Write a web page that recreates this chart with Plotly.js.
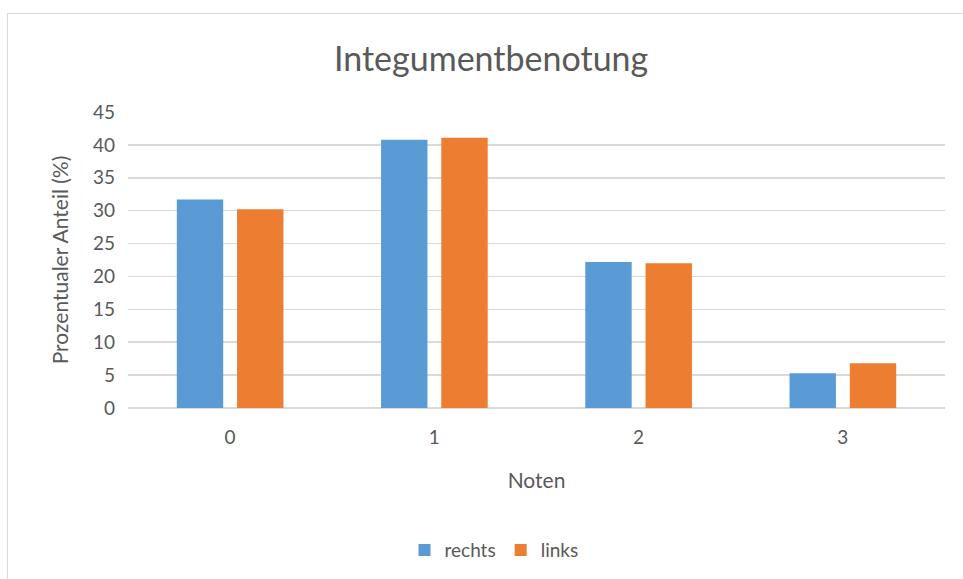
<!DOCTYPE html>
<html><head><meta charset="utf-8">
<script src="https://cdn.plot.ly/plotly-3.0.1.min.js"></script>
<style>
body{margin:0;background:#fff;}
#frame{position:absolute;left:7px;top:13px;width:970px;height:600px;border:1px solid #d9d9d9;pointer-events:none;z-index:5;}
#chart{position:absolute;left:0;top:0;width:963px;height:579px;}
</style></head>
<body>
<div id="chart"></div>
<div id="frame"></div>
<script>
const categories = ['0', '1', '2', '3'];
const rechts = [31.7, 40.8, 22.2, 5.3];
const links = [30.2, 41.1, 22.0, 6.8];
const seriesNames = ['rechts', 'links'];
const yTicks = [0, 5, 10, 15, 20, 25, 30, 35, 40, 45];

const font = 'Lato, "Open Sans", sans-serif';
const data = [
  {type:'bar', name:seriesNames[0], x:categories, y:rechts, marker:{color:'#5B9BD5'}},
  {type:'bar', name:seriesNames[1], x:categories, y:links, marker:{color:'#ED7D31'}}
];
const layout = {
  width:963, height:579,
  paper_bgcolor:'rgba(0,0,0,0)', plot_bgcolor:'rgba(0,0,0,0)',
  margin:{l:128, r:18, t:112, b:170},
  barmode:'group', bargap:0.41, bargroupgap:0.23,
  title:{text:'Integumentbenotung', x:0.51, xanchor:'center', y:0.898, yanchor:'middle', font:{family:font, size:34, color:'#595959'}},
  xaxis:{type:'category', tickfont:{family:font, size:19, color:'#595959'}, ticks:'', showgrid:false, showline:false, zeroline:false,
         ticklabelstandoff:16,
         title:{text:'Noten', font:{family:font, size:21, color:'#595959'}, standoff:26}},
  yaxis:{range:[0,45], tickvals:yTicks, ticktext:yTicks.map(String), tickfont:{family:font, size:19, color:'#595959'},
         gridcolor:'#d9d9d9', gridwidth:1.5, zeroline:true, zerolinecolor:'#d9d9d9', zerolinewidth:1.5, ticks:'', ticklen:0,
         ticklabelstandoff:12,
         title:{text:'Prozentualer Anteil (%)', font:{family:font, size:21, color:'#595959'}, standoff:18}},
  legend:{orientation:'h', x:0.448, xanchor:'center', y:-0.475, yanchor:'middle', font:{family:font, size:19, color:'#595959'}, itemwidth:20, traceorder:'normal'},
  showlegend:true
};
Plotly.newPlot('chart', data, layout, {displayModeBar:false, staticPlot:true});
</script>
</body></html>
